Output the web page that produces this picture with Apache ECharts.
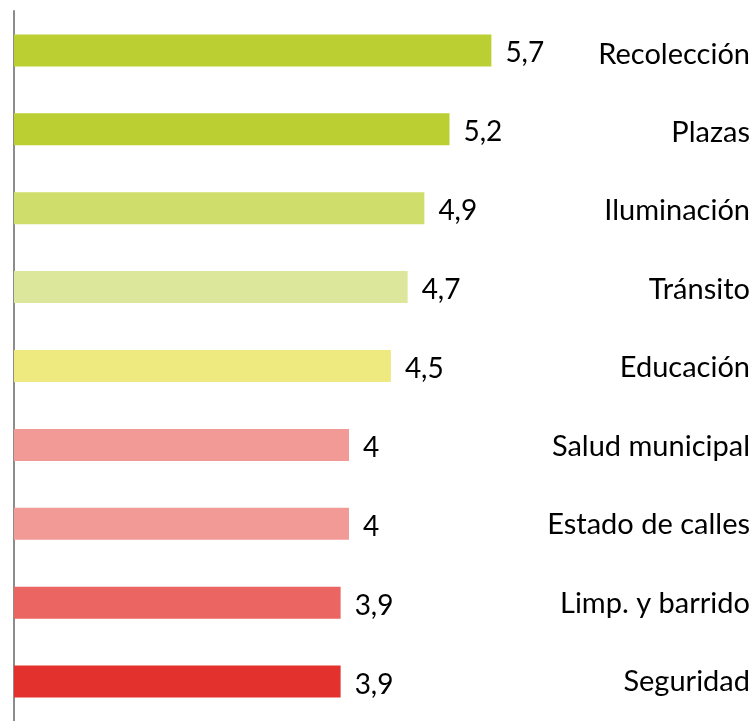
<!DOCTYPE html>
<html>
<head>
<meta charset="utf-8">
<script src="https://cdn.jsdelivr.net/npm/echarts@6/dist/echarts.min.js"></script>
<style>
  html, body { margin: 0; padding: 0; background: #fff; }
  #chart { width: 755px; height: 721px; }
</style>
</head>
<body>
<div id="chart"></div>
<script>
// categories top to bottom
var categorias = ['Recolección', 'Plazas', 'Iluminación', 'Tránsito', 'Educación',
                  'Salud municipal', 'Estado de calles', 'Limp. y barrido', 'Seguridad'];
var valores = [5.7, 5.2, 4.9, 4.7, 4.5, 4, 4, 3.9, 3.9];
var colores = ['#bccf32', '#bccf32', '#cfdd6a', '#dce79b', '#eeea80',
               '#f29b96', '#f29b96', '#eb6562', '#e3322d'];

var myChart = echarts.init(document.getElementById('chart'));

var option = {
    animation: false,
    grid: [
        { top: 11, bottom: -7, left: 14, right: 71 },
        // same grid nudged down a bit, only carries the category names
        { top: 15, bottom: -11, left: 14, right: 71 }
    ],
    xAxis: [
        { type: 'value', min: 0, max: 8, show: false, gridIndex: 0 },
        { type: 'value', min: 0, max: 8, show: false, gridIndex: 1 }
    ],
    yAxis: [
        {
            type: 'category',
            gridIndex: 0,
            data: categorias,
            inverse: true,
            position: 'left',
            axisLine: { show: true, lineStyle: { color: '#8c8c8c', width: 2 } },
            axisTick: { show: false },
            axisLabel: { show: false }
        },
        {
            type: 'category',
            gridIndex: 1,
            data: categorias,
            inverse: true,
            position: 'right',
            axisLine: { show: false },
            axisTick: { show: false },
            axisLabel: {
                align: 'right',
                margin: 66,
                color: '#000',
                fontFamily: 'Lato',
                fontSize: 29
            }
        }
    ],
    series: [
        {
            type: 'bar',
            xAxisIndex: 0,
            yAxisIndex: 0,
            barWidth: 32,
            data: valores.map(function (v, i) {
                return { value: v, itemStyle: { color: colores[i] } };
            }),
            label: {
                show: true,
                position: 'right',
                distance: 14,
                offset: [0, 3],
                color: '#000',
                fontFamily: 'Lato',
                fontSize: 28,
                formatter: function (p) {
                    return String(p.value).replace('.', ',');
                }
            }
        }
    ]
};
myChart.setOption(option);
</script>
</body>
</html>
